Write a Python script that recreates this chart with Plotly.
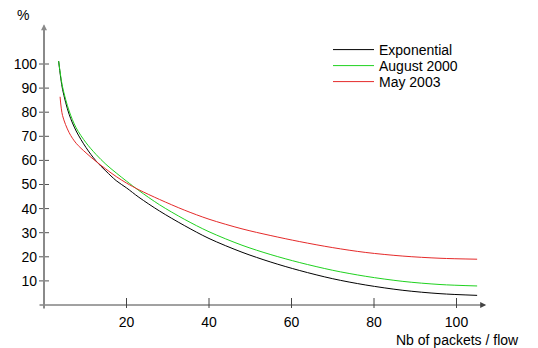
import plotly.graph_objects as go

# ---- data ----
x_exp = [3.55, 4.5, 6.1, 7.8, 10.2, 12.6, 15.0, 17.5, 20.0, 23.0, 28.0, 34.0, 40.0, 48.0, 55.0, 62.0, 70.0, 78.0, 87.0, 96.0, 105.0]
y_exp = [101.2, 89.5, 79.1, 72.2, 65.3, 59.8, 55.6, 51.6, 48.6, 44.7, 39.0, 33.0, 27.6, 21.9, 17.8, 14.3, 10.9, 8.3, 6.1, 4.7, 4.0]

x_aug = [3.55, 4.5, 6.1, 7.8, 10.2, 12.6, 15.0, 17.5, 20.0, 23.0, 28.0, 34.0, 40.0, 48.0, 55.0, 62.0, 70.0, 78.0, 87.0, 96.0, 105.0]
y_aug = [101.2, 90.5, 80.5, 73.5, 67.3, 62.5, 58.4, 54.8, 51.4, 47.5, 41.6, 35.6, 30.4, 24.8, 20.9, 17.6, 14.4, 11.9, 9.8, 8.5, 7.9]

x_may = [3.9, 4.5, 6.1, 7.8, 10.2, 12.6, 15.0, 17.5, 20.0, 23.0, 28.0, 34.0, 40.0, 48.0, 55.0, 62.0, 70.0, 78.0, 87.0, 96.0, 105.0]
y_may = [86.4, 78.6, 71.5, 67.1, 63.1, 59.6, 56.4, 53.3, 50.6, 47.8, 43.8, 39.4, 35.6, 31.6, 28.8, 26.3, 23.8, 21.8, 20.3, 19.4, 19.0]

series_names = ["Exponential", "August 2000", "May 2003"]
series_colors = ["#000000", "#1fd21f", "#e52a2a"]

x_ticks = [20, 40, 60, 80, 100]
y_ticks = [10, 20, 30, 40, 50, 60, 70, 80, 90, 100]

x_range = [-1.4545, 107.636]
y_range = [-2.905, 118.26]

FONT = "Liberation Sans, Arial, sans-serif"

W, H = 538, 348
L, R, T, B = 38, 50, 20, 36
pw, ph = W - L - R, H - T - B


def px_x(p):
    return (p - L) / pw


def px_y(p):
    return (ph + T - p) / ph


legend_rows = [50, 66, 82]
legend_ids = ["legend", "legend2", "legend3"]

fig = go.Figure()
for xs, ys, name, col, lid in zip([x_exp, x_aug, x_may], [y_exp, y_aug, y_may],
                                  series_names, series_colors, legend_ids):
    fig.add_trace(go.Scatter(x=xs, y=ys, mode="lines", name=name, legend=lid,
                             line=dict(color=col, width=1, shape="spline", smoothing=0.9)))

shapes = []
for v in y_ticks:
    shapes.append(dict(type="line", xref="x", yref="y", xsizemode="pixel", xanchor=0,
                       x0=-5, x1=5, y0=v, y1=v, line=dict(color="#555555", width=1)))
for v in x_ticks:
    shapes.append(dict(type="line", xref="x", yref="y", ysizemode="pixel", yanchor=0,
                       x0=v, x1=v, y0=-3, y1=7, line=dict(color="#444444", width=1)))

annotations = [
    dict(x=107.2, y=0, ax=x_range[0], ay=0, xref="x", yref="y", axref="x", ayref="y",
         text="", showarrow=True, arrowhead=2, arrowsize=1.2, arrowwidth=1,
         arrowcolor="#444444", standoff=0, startstandoff=0),
    dict(x=0, y=116.5, ax=0, ay=-2.1, xref="x", yref="y", axref="x", ayref="y",
         text="", showarrow=True, arrowhead=2, arrowsize=0.6, arrowwidth=2,
         arrowcolor="#8a8a8a", standoff=0, startstandoff=0),
    dict(text="%", xref="paper", yref="paper", x=px_x(23), y=px_y(15),
         xanchor="center", yanchor="middle", showarrow=False,
         font=dict(family=FONT, size=14, color="black")),
    dict(text="Nb of packets / flow", xref="paper", yref="paper", x=px_x(521), y=px_y(340),
         xanchor="right", yanchor="middle", showarrow=False,
         font=dict(family=FONT, size=14, color="black")),
]

legend_common = dict(xanchor="left", yanchor="middle", bgcolor="rgba(0,0,0,0)",
                     font=dict(family=FONT, size=14, color="black"), borderwidth=0,
                     itemwidth=41)
layout_legends = {}
for lid, row in zip(legend_ids, legend_rows):
    layout_legends[lid] = dict(x=px_x(328), y=px_y(row), **legend_common)

fig.update_layout(
    width=W, height=H,
    margin=dict(l=L, r=R, t=T, b=B, pad=0),
    paper_bgcolor="white", plot_bgcolor="white",
    font=dict(family=FONT, size=14, color="black"),
    showlegend=True,
    xaxis=dict(range=x_range, showgrid=False, zeroline=False, showline=False,
               tickmode="array", tickvals=x_ticks, ticktext=[str(v) for v in x_ticks],
               ticks="", tickfont=dict(family=FONT, size=14, color="black"), fixedrange=True),
    yaxis=dict(range=y_range, showgrid=False, zeroline=False, showline=False,
               tickmode="array", tickvals=y_ticks, ticktext=[str(v) for v in y_ticks],
               ticks="", tickfont=dict(family=FONT, size=14, color="black"), fixedrange=True),
    shapes=shapes,
    annotations=annotations,
    **layout_legends,
)

fig.write_html("out.html", config={"displayModeBar": False},
               post_script="document.body.style.margin='0px';")
